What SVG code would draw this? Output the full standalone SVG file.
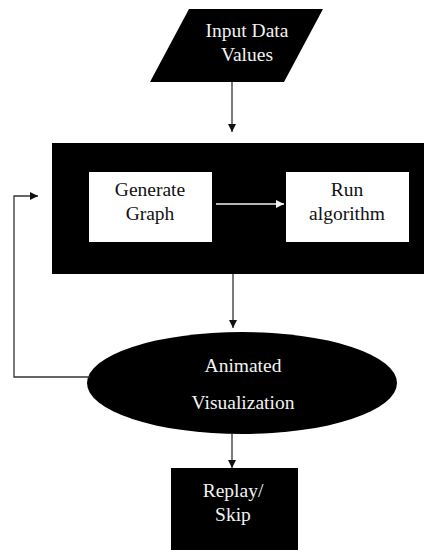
<svg xmlns="http://www.w3.org/2000/svg" width="426" height="550" viewBox="0 0 426 550">
  <style>
    .shape { fill: #000; }
    .inner { fill: #fff; }
    .lbl { font-family: "Liberation Serif", "DejaVu Serif", "Times New Roman", serif; font-size: 19.5px; text-anchor: middle; }
    .light { fill: #f2f2f2; }
    .dark { fill: #111; }
    .wire { fill: none; stroke: #333; stroke-width: 1.3; }
    .wire-light { fill: none; stroke: #f2f2f2; stroke-width: 1.3; }
  </style>
  <defs>
    <marker id="head" viewBox="0 0 10 10" refX="10" refY="5" markerWidth="8" markerHeight="8" markerUnits="userSpaceOnUse" orient="auto">
      <path d="M0,0 L10,5 L0,10 Z" fill="#111"/>
    </marker>
    <marker id="head-light" viewBox="0 0 10 10" refX="10" refY="5" markerWidth="8" markerHeight="8" markerUnits="userSpaceOnUse" orient="auto">
      <path d="M0,0 L10,5 L0,10 Z" fill="#f2f2f2"/>
    </marker>
  </defs>

  <rect width="426" height="550" fill="#fff"/>

  <!-- input parallelogram -->
  <g id="input">
    <polygon class="shape" points="189,9 323,9 284,82 150,82"/>
    <text class="lbl light" x="247" y="37">Input Data</text>
    <text class="lbl light" x="247" y="61">Values</text>
  </g>

  <!-- processing block holding the two steps -->
  <g id="process">
    <rect class="shape" x="52" y="143" width="372" height="131"/>
  </g>
  <g id="generate">
    <rect class="inner" x="89" y="172" width="123" height="70"/>
    <text class="lbl dark" x="150" y="196">Generate</text>
    <text class="lbl dark" x="150" y="220">Graph</text>
  </g>
  <g id="run">
    <rect class="inner" x="286" y="172" width="123" height="70"/>
    <text class="lbl dark" x="347" y="196">Run</text>
    <text class="lbl dark" x="347" y="220">algorithm</text>
  </g>

  <!-- animation ellipse -->
  <g id="animate">
    <ellipse class="shape" cx="242" cy="383" rx="155" ry="51"/>
    <text class="lbl light" x="243" y="372">Animated</text>
    <text class="lbl light" x="243" y="409">Visualization</text>
  </g>

  <!-- replay / skip choice -->
  <g id="replay">
    <rect class="shape" x="171" y="468" width="127" height="82"/>
    <text class="lbl light" x="233" y="497">Replay/</text>
    <text class="lbl light" x="233" y="521">Skip</text>
  </g>

  <!-- connectors -->
  <g id="connectors">
    <path class="wire" d="M232,82 V132" marker-end="url(#head)"/>
    <path class="wire-light" d="M216,204 H284" marker-end="url(#head-light)"/>
    <path class="wire" d="M233,274 V328" marker-end="url(#head)"/>
    <path class="wire" d="M232,434 V468" marker-end="url(#head)"/>
    <path class="wire" d="M90,377 H14 V196 H38" marker-end="url(#head)"/>
  </g>
</svg>
